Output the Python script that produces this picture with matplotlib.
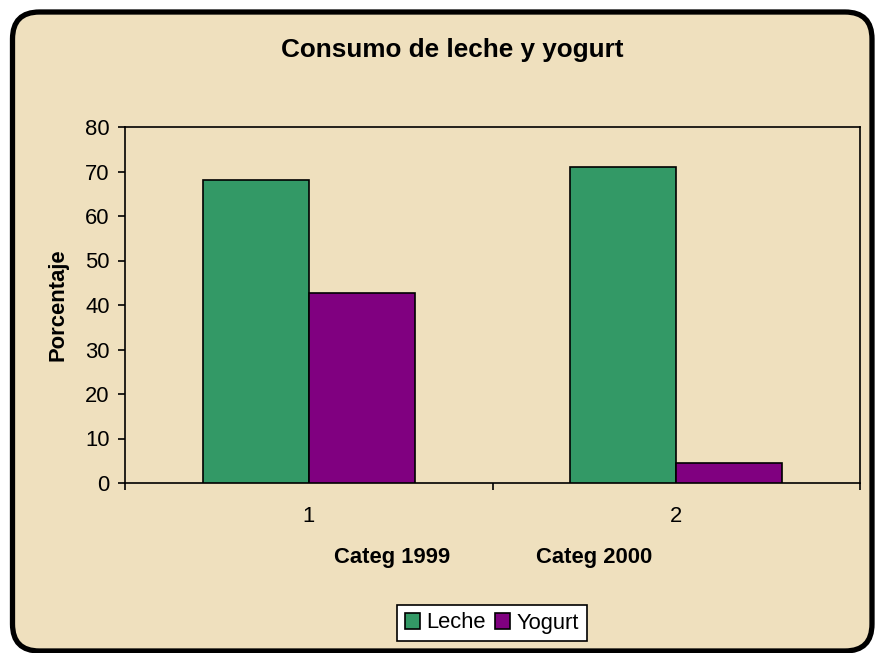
import matplotlib
matplotlib.use("Agg")
import matplotlib.pyplot as plt
from matplotlib.patches import FancyBboxPatch
import numpy as np

plt.rcParams['font.family'] = ['Liberation Sans', 'DejaVu Sans']

title = "Consumo de leche y yogurt"
categories = ["1", "2"]
category_titles = ["Categ 1999", "Categ 2000"]
series_names = ["Leche", "Yogurt"]
leche = [68.2, 71.0]
yogurt = [42.7, 4.6]
y_label = "Porcentaje"
y_ticks = [0, 10, 20, 30, 40, 50, 60, 70, 80]

colors = ["#339966", "#800080"]
bg = "#EFE0BE"
fs = 15.8

W, H = 875, 653
fig = plt.figure(figsize=(W / 100, H / 100), dpi=100, facecolor="white")

def px(x, y):
    return x / 100, (H - y) / 100

x0, y0 = px(12.5, 651)
x1, y1 = px(872, 12)
panel = FancyBboxPatch((x0, y0), x1 - x0, y1 - y0,
                       boxstyle="round,pad=0,rounding_size=0.27",
                       transform=fig.dpi_scale_trans,
                       facecolor=bg, edgecolor="black", linewidth=3.8,
                       zorder=0)
fig.add_artist(panel)

ax = fig.add_axes([125 / W, (H - 483) / H, 735 / W, 356 / H])
ax.set_facecolor("none")
ax.patch.set_alpha(0)

x = np.arange(len(categories))
w = 106 / 367.5
ax.bar(x - w / 2, leche, width=w, color=colors[0], edgecolor="black",
       linewidth=1.2, label=series_names[0], zorder=3)
ax.bar(x + w / 2, yogurt, width=w, color=colors[1], edgecolor="black",
       linewidth=1.2, label=series_names[1], zorder=3)

ax.set_xlim(-0.5, len(categories) - 0.5)
ax.set_ylim(0, 80)
ax.set_yticks(y_ticks)
ax.set_yticklabels([str(v) for v in y_ticks])
ax.set_xticks(np.arange(len(categories) + 1) - 0.5)
ax.set_xticklabels([])
ax.set_xticks(x, minor=True)
ax.set_xticklabels(categories, minor=True)
ax.tick_params(axis="x", which="major", direction="out", length=5, width=1.2)
ax.tick_params(axis="x", which="minor", length=0, labelsize=fs, pad=16.5)
ax.tick_params(axis="y", direction="out", length=5, width=1.2, labelsize=fs, pad=6)
for s in ax.spines.values():
    s.set_linewidth(1.2)
    s.set_color("black")

fig.text(452 / W, 1 - 50 / H, title, ha="center", va="center",
         fontsize=18.8, fontweight="bold")
fig.text(58 / W, 1 - 305 / H, y_label, ha="center", va="center",
         rotation=90, fontsize=fs, fontweight="bold")
for cx, t in zip([392, 594], category_titles):
    fig.text(cx / W, 1 - 558 / H, t, ha="center", va="center",
             fontsize=fs, fontweight="bold")

leg = fig.legend(loc="center", bbox_to_anchor=(492 / W, 1 - 623 / H), ncol=2,
                 fancybox=False, edgecolor="black", framealpha=1,
                 fontsize=fs, handlelength=0.7, handleheight=0.7,
                 handletextpad=0.3, columnspacing=0.4, borderpad=0.35,
                 borderaxespad=0)
leg.get_frame().set_linewidth(1.2)

fig.savefig("out.png", dpi=100, facecolor="white")
